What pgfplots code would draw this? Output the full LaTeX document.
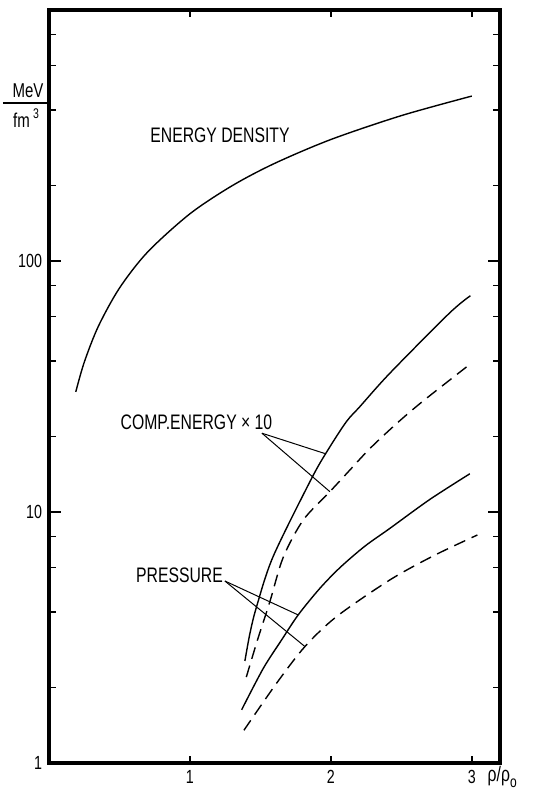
\documentclass[border=0pt]{standalone}
\usepackage{fontspec}
\setmainfont{Liberation Sans}[FakeStretch=0.75]
\usepackage{pgfplots}
\pgfplotsset{compat=1.18}

% curves (density in units of rho_0, values in MeV/fm^3)
\pgfplotstableread{
x y
0.19 30.1
0.25 39.5
0.35 54.9
0.5 78.0
0.7 108.6
1.0 154.2
1.3 199.6
1.6 244.7
2.0 304.8
2.5 379.5
3.0 454
}\energy
\pgfplotstableread{
x y
1.39 2.55
1.426 3.29
1.473 4.2
1.59 6.64
1.863 13.6
1.98 17.7
2.11 22.9
2.206 26.3
2.418 35.7
2.84 61.9
2.99 72.7
}\compA
\pgfplotstableread{
x y
1.40 2.2
1.48 3.1
1.567 4.39
1.662 6.6
1.804 9.29
1.993 12.05
2.135 14.7
2.277 17.9
2.466 22.5
2.655 27.7
3.0 39.3
}\compB
\pgfplotstableread{
x y
1.367 1.63
1.52 2.38
1.65 3.09
1.768 3.89
1.92 4.95
2.064 6.0
2.24 7.3
2.418 8.6
2.70 11.2
2.986 14.2
}\presA
\pgfplotstableread{
x y
1.383 1.35
1.615 2.08
1.816 2.91
2.04 3.83
2.418 5.36
2.73 6.7
3.04 8.1
}\presB

\begin{document}
\begin{tikzpicture}
\useasboundingbox (-24.5pt,-16.5pt) rectangle (245pt,381.5pt);
\begin{axis}[
  at={(0,0)}, anchor=south west,
  scale only axis, width=225.5pt, height=376.5pt,
  xmin=0, xmax=3.2, ymin=1, ymax=1000, ymode=log,
  xtick={1,2,3}, xticklabels={1,2,3},
  ytick={1,10,100,1000}, yticklabels={1,10,100,},
  minor ytick={2,4,6,8,20,40,60,80,200,400,600,800},
  xtick pos=both, ytick pos=both, tick align=inside,
  major tick length=6pt, minor tick length=3.5pt,
  xtick style={/pgfplots/major tick length=3.5pt},
  tick style={black, line width=0.8pt},
  axis line style={line width=1.6pt},
  tick label style={font=\fontsize{9.5}{11}\selectfont},
  clip=false,
]
\addplot[black, line width=0.7pt, smooth] table {\energy};
\addplot[black, line width=0.7pt, smooth] table {\compA};
\addplot[black, line width=0.7pt, smooth, dash pattern=on 6pt off 3.5pt] table {\compB};
\addplot[black, line width=0.7pt, smooth] table {\presA};
\addplot[black, line width=0.7pt, smooth, dash pattern=on 6pt off 3.5pt] table {\presB};

% curve labels and leader lines
\node[inner sep=0, font=\fontsize{10.5}{12}\selectfont] at (axis cs:1.213,318) {ENERGY DENSITY};
\node[inner sep=0, font=\fontsize{10.5}{12}\selectfont] at (axis cs:1.046,22.8) {COMP.ENERGY × 10};
\node[inner sep=0, font=\fontsize{10.5}{12}\selectfont] at (axis cs:0.926,5.61) {PRESSURE};
\draw[line width=0.5pt] (axis cs:1.511,20.6) -- (axis cs:1.957,17.1);
\draw[line width=0.5pt] (axis cs:1.511,20.6) -- (axis cs:1.993,12.05);
\draw[line width=0.5pt] (axis cs:1.248,5.31) -- (axis cs:1.768,3.89);
\draw[line width=0.5pt] (axis cs:1.248,5.31) -- (axis cs:1.816,2.91);

% unit label on the y axis
\draw[line width=0.6pt] ([xshift=-23pt]axis cs:0,426) -- ([xshift=-0.5pt]axis cs:0,426);
\node[inner sep=0, anchor=south, font=\fontsize{10}{12}\selectfont]
  at ([xshift=-10.5pt, yshift=2.5pt]axis cs:0,426) {MeV};
\node[inner sep=0, anchor=north, font=\fontsize{10}{12}\selectfont]
  at ([xshift=-11.5pt, yshift=-2.5pt]axis cs:0,426) {fm\,\raisebox{0.9ex}{\fontsize{7}{8}\selectfont 3}};

% unit label on the x axis
\node[inner sep=0, anchor=base west, font=\fontsize{10.5}{12}\selectfont]
  at ([yshift=-9.5pt]axis cs:3.11,1) {ρ/ρ\raisebox{-0.5ex}{\fontsize{8}{9}\selectfont o}};
\end{axis}
\end{tikzpicture}
\end{document}
